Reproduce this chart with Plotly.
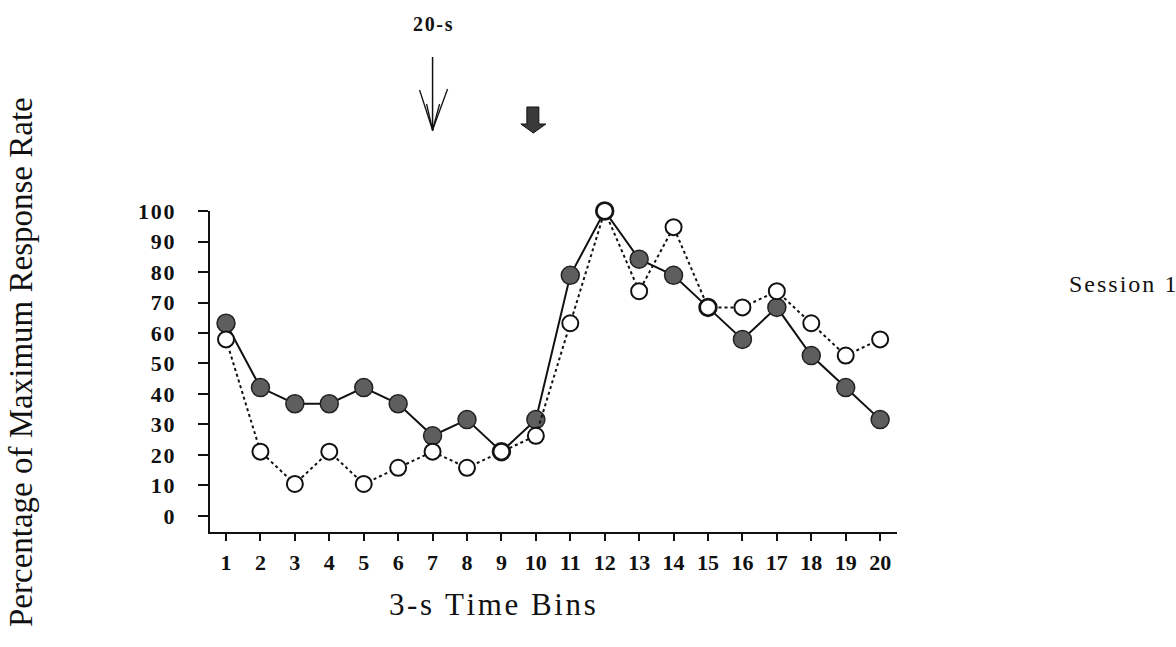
import plotly.graph_objects as go

# ---------------- data ----------------
bins = list(range(1, 21))
tick_labels = [str(b) for b in bins]
filled_series = [63.2, 42.1, 36.8, 36.8, 42.1, 36.8, 26.3, 31.6, 21.1, 31.6,
                 78.9, 100.0, 84.2, 78.9, 68.4, 57.9, 68.4, 52.6, 42.1, 31.6]
open_series = [57.9, 21.1, 10.5, 21.1, 10.5, 15.8, 21.1, 15.8, 21.1, 26.3,
               63.2, 100.0, 73.7, 94.7, 68.4, 68.4, 73.7, 63.2, 52.6, 57.9]
y_ticks = [0, 10, 20, 30, 40, 50, 60, 70, 80, 90, 100]
event_bins = [7, 10]          # thin arrow (20-s) and block arrow
event_label = "20-s"
x_title = "3-s Time Bins"
y_title = "Percentage of Maximum Response Rate"
panel_label = "Session 1"

# ---------------- layout geometry (pixels) ----------------
W, H = 1176, 647
L, R, T, B = 210, 897, 211, 532
X_RANGE = [0.535, 20.49]
Y_RANGE = [-5.25, 100]
SERIF = "Liberation Serif, Times New Roman, serif"
INK = "#111111"
HAIR = "\u200a"


def spaced(s, sep):
    return sep.join(list(s))


def px_x(px):  # pixel -> paper x
    return (px - L) / (R - L)


def px_y(py):  # pixel -> paper y
    return (B - py) / (B - T)


def dx(px_off):  # pixel offset -> data units on x
    return px_off * (X_RANGE[1] - X_RANGE[0]) / (R - L)


fig = go.Figure()

fig.add_trace(go.Scatter(
    x=bins, y=filled_series, mode="lines+markers",
    line=dict(color=INK, width=2),
    marker=dict(size=18, color="#5e5e5e", line=dict(color="#222222", width=1.5)),
    cliponaxis=False, showlegend=False))

fig.add_trace(go.Scatter(
    x=bins, y=open_series, mode="lines+markers",
    line=dict(color=INK, width=2, dash="dot"),
    marker=dict(size=16, color="white", line=dict(color=INK, width=2)),
    cliponaxis=False, showlegend=False))

shapes = []
# thin arrow at first event bin
xe = event_bins[0]
shapes.append(dict(type="line", xref="x", yref="paper", x0=xe, x1=xe,
                   y0=px_y(57), y1=px_y(131), line=dict(color=INK, width=1.5)))
for off, ytop in [(-13, 90), (15, 89), (-6, 104), (7, 104)]:
    shapes.append(dict(type="line", xref="x", yref="paper",
                       x0=xe + dx(off), x1=xe, y0=px_y(ytop), y1=px_y(130),
                       line=dict(color=INK, width=1.3)))

# block arrow at second event bin
xb = event_bins[1]
c = -3
pts = [(c - 6, 107), (c + 6, 107), (c + 6, 124), (c + 13, 124), (c + 0.5, 133),
       (c - 12, 124), (c - 6, 124)]
path = "M " + " L ".join(f"{xb + dx(px):.4f},{px_y(py):.4f}" for px, py in pts) + " Z"
shapes.append(dict(type="path", xref="x", yref="paper", path=path,
                   fillcolor="#3a3a3a", line=dict(color="#111111", width=1)))

annotations = [
    dict(text=spaced(event_label, HAIR), xref="x", yref="paper", x=event_bins[0],
         y=px_y(24), showarrow=False, xanchor="center", yanchor="middle",
         font=dict(family=SERIF, size=20, color=INK, weight="bold")),
    dict(text=spaced(x_title, HAIR), xref="paper", yref="paper", x=px_x(492),
         y=px_y(604), showarrow=False, xanchor="center", yanchor="middle",
         font=dict(family=SERIF, size=31, color=INK)),
    dict(text=y_title, xref="paper", yref="paper", x=px_x(21),
         y=px_y(362), showarrow=False, xanchor="center", yanchor="middle",
         textangle=-90, font=dict(family=SERIF, size=33, color=INK)),
    dict(text=spaced(panel_label, HAIR), xref="paper", yref="paper", x=px_x(1122),
         y=px_y(284), showarrow=False, xanchor="center", yanchor="middle",
         font=dict(family=SERIF, size=24, color=INK)),
]

fig.update_layout(
    width=W, height=H,
    margin=dict(l=L, r=W - R, t=T, b=H - B, pad=0),
    paper_bgcolor="white", plot_bgcolor="white",
    shapes=shapes, annotations=annotations,
    xaxis=dict(range=X_RANGE, tickvals=bins,
               ticktext=tick_labels,
               showgrid=False, zeroline=False, showline=True, linecolor=INK,
               linewidth=2, ticks="outside", ticklen=7, tickwidth=1.5,
               tickcolor=INK, ticklabelstandoff=3,
               tickfont=dict(family=SERIF, size=22, color=INK, weight="bold")),
    yaxis=dict(range=Y_RANGE, tickvals=y_ticks,
               ticktext=[spaced(str(v), HAIR) for v in y_ticks],
               showgrid=False, zeroline=False, showline=True, linecolor=INK,
               linewidth=2, ticks="outside", ticklen=10, tickwidth=1.5,
               tickcolor=INK, ticklabelstandoff=19,
               tickfont=dict(family=SERIF, size=22, color=INK, weight="bold")),
)

fig.write_html("out.html")
